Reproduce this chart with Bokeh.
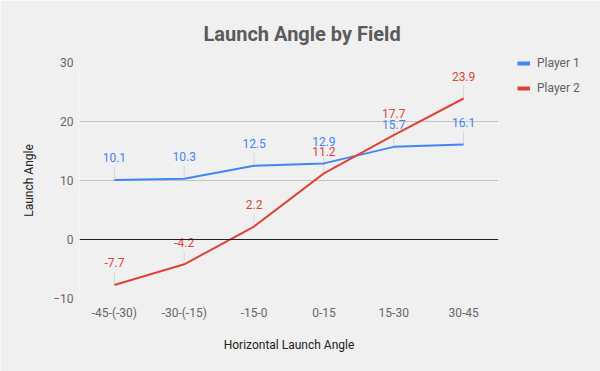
from bokeh.plotting import figure
from bokeh.models import ColumnDataSource, Legend, LegendItem, Span, FactorRange, Range1d
from bokeh.core.properties import value
from bokeh.embed import file_html
from bokeh.resources import INLINE

categories = ["-45-(-30)", "-30-(-15)", "-15-0", "0-15", "15-30", "30-45"]
player1 = [10.1, 10.3, 12.5, 12.9, 15.7, 16.1]
player2 = [-7.7, -4.2, 2.2, 11.2, 17.7, 23.9]
y_ticks = [-10, 0, 10, 20, 30]

BLUE = "#4285f4"
RED = "#db4437"
FONT = "Roboto"

FRAME_H = 236
y_min, y_max = -10, 30
px_per_unit = FRAME_H / (y_max - y_min)
lead = 13 / px_per_unit

p = figure(
    x_range=FactorRange(*categories, range_padding=0),
    y_range=Range1d(y_min, y_max),
    frame_width=419, frame_height=FRAME_H,
    min_border_left=79, min_border_right=102, min_border_top=62, min_border_bottom=73,
    output_backend="svg", toolbar_location=None,
    background_fill_color="#f0f0f0", border_fill_color="#f0f0f0",
    outline_line_color=None,
)

p.title.text = "Launch Angle by Field"
p.title.text_font = FONT
p.title.text_font_size = "20px"
p.title.text_color = "#5b5b5b"
p.title.align = "left"
p.title.offset = 124
p.title.standoff = 33

# axes
for ax in (p.xaxis, p.yaxis):
    ax.axis_line_color = None
    ax.major_tick_line_color = None
    ax.minor_tick_line_color = None
    ax.major_tick_out = 0
    ax.major_tick_in = 0
    ax.minor_tick_out = 0
    ax.minor_tick_in = 0
    ax.major_label_text_font = FONT
    ax.major_label_text_font_size = "12px"
    ax.major_label_text_color = "#666666"
    ax.axis_label_text_font = FONT
    ax.axis_label_text_font_size = "12px"
    ax.axis_label_text_color = "#222222"
    ax.axis_label_text_font_style = "normal"

p.xaxis.axis_label = "Horizontal Launch Angle"
p.yaxis.axis_label = "Launch Angle"
p.yaxis.ticker = y_ticks
p.xaxis.major_label_standoff = 7
p.yaxis.major_label_standoff = 6
p.xaxis.axis_label_standoff = 15
p.yaxis.axis_label_standoff = 14

p.xgrid.grid_line_color = None
p.ygrid.grid_line_color = "#c4c4c4"
p.ygrid.grid_line_width = 1

p.add_layout(Span(location=0, dimension="width", line_color="#222222", line_width=1))

src = ColumnDataSource(dict(
    x=categories, p1=player1, p2=player2,
    p1_top=[v + lead for v in player1], p2_top=[v + lead for v in player2],
    p1_txt=[f"{v:.1f}" for v in player1], p2_txt=[f"{v:.1f}" for v in player2],
))

# leader lines
p.segment(x0="x", y0="p1", x1="x", y1="p1_top", source=src, line_color="#d6d6d6", line_width=1)
p.segment(x0="x", y0="p2", x1="x", y1="p2_top", source=src, line_color="#d6d6d6", line_width=1)

p.line("x", "p1", source=src, line_color=BLUE, line_width=2)
p.line("x", "p2", source=src, line_color=RED, line_width=2)

p.text(x="x", y="p1", text="p1_txt", source=src, y_offset=-22, text_align="center",
       text_baseline="middle", text_font=value(FONT), text_font_size="12px", text_color=BLUE)
p.text(x="x", y="p2", text="p2_txt", source=src, y_offset=-22, text_align="center",
       text_baseline="middle", text_font=value(FONT), text_font_size="12px", text_color=RED)

# legend swatches (legend-only renderers, draw nothing in the plot)
d1 = p.line(x=categories[:1], y=[float("nan")], line_color=BLUE, line_width=4)
d2 = p.line(x=categories[:1], y=[float("nan")], line_color=RED, line_width=4)
legend = Legend(
    items=[LegendItem(label="Player 1", renderers=[d1]), LegendItem(label="Player 2", renderers=[d2])],
    location=(19, 200.5), orientation="vertical",
    glyph_width=13, glyph_height=20, label_height=20, label_standoff=7, spacing=5,
    padding=0, margin=0, border_line_alpha=0, background_fill_alpha=0,
    label_text_font=FONT, label_text_font_size="12px", label_text_color="#5f5f5f",
)
p.add_layout(legend, "right")

open("out.html", "w").write(file_html(p, INLINE))
